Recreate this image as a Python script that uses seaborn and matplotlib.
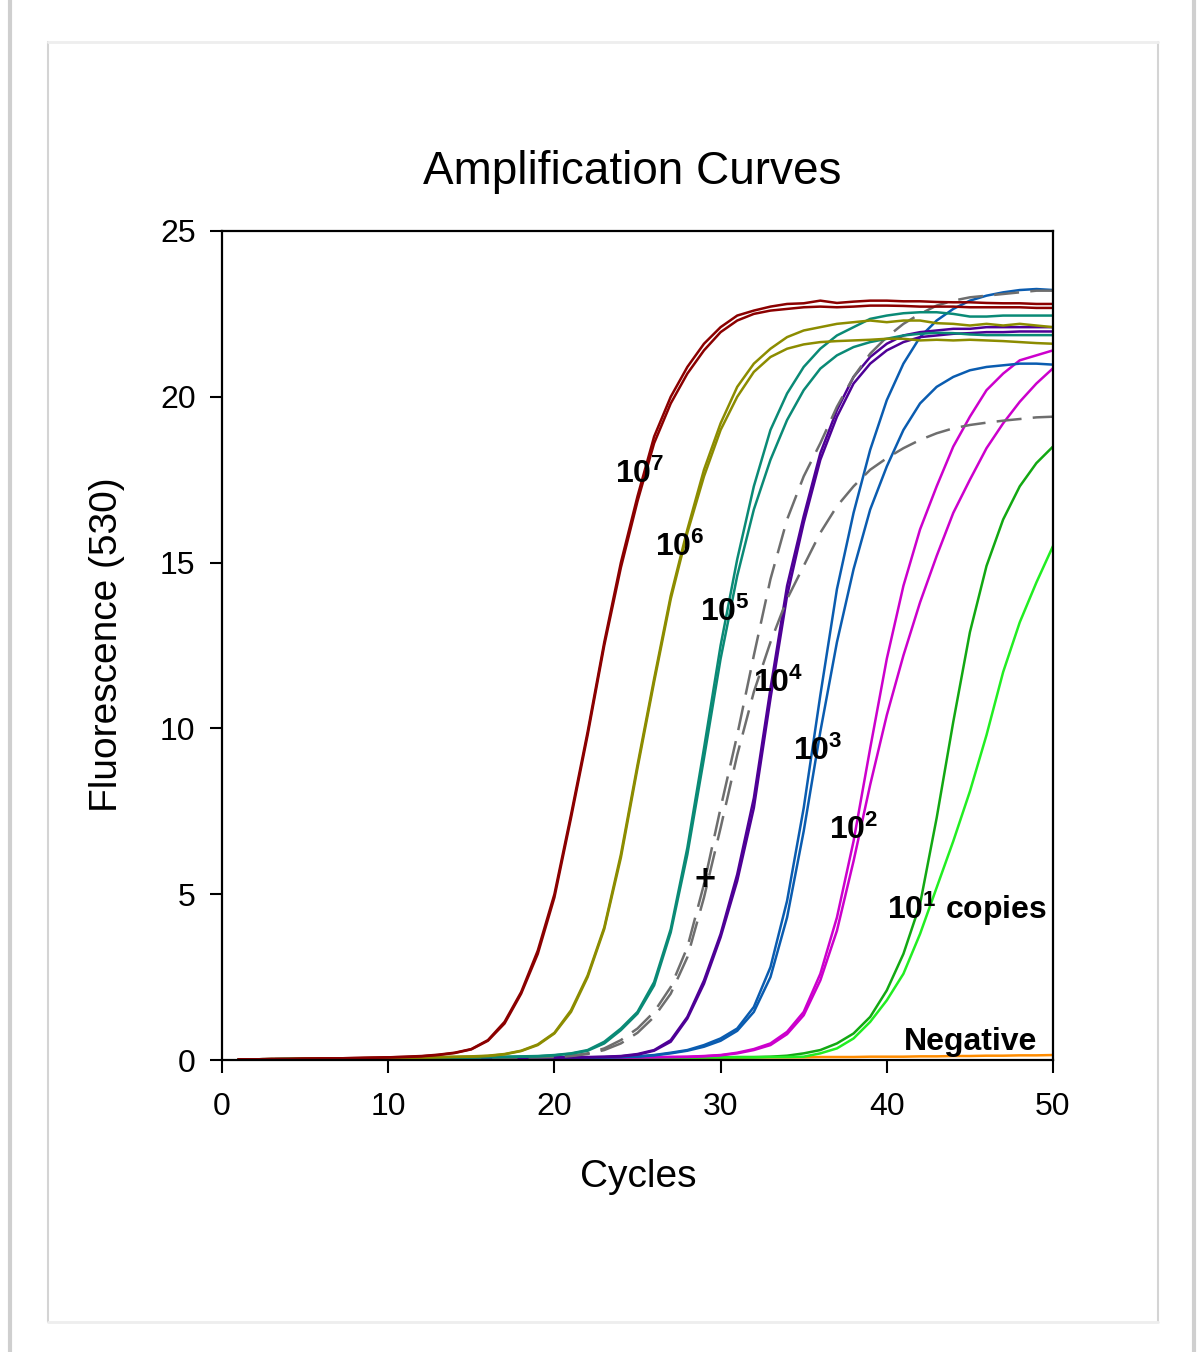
import matplotlib
matplotlib.use('Agg')
import matplotlib.pyplot as plt
import seaborn as sns
import pandas as pd
from matplotlib.lines import Line2D

# qPCR amplification curves, two replicate wells per dilution
cycles = list(range(1, 51))

red_a = [0.02, 0.02, 0.03, 0.03, 0.04, 0.05, 0.05, 0.06, 0.07, 0.08,
         0.10, 0.12, 0.16, 0.22, 0.33, 0.60, 1.15, 2.05, 3.30, 5.00,
         7.40, 9.90, 12.6, 15.0, 17.0, 18.8, 20.0, 20.9, 21.6, 22.1,
         22.45, 22.6, 22.72, 22.8, 22.82, 22.9, 22.83, 22.87, 22.9, 22.9,
         22.88, 22.88, 22.86, 22.85, 22.85, 22.83, 22.82, 22.82, 22.8, 22.8]
red_b = [0.02, 0.02, 0.03, 0.03, 0.04, 0.04, 0.05, 0.06, 0.07, 0.08,
         0.09, 0.11, 0.15, 0.21, 0.32, 0.58, 1.10, 2.00, 3.20, 4.90,
         7.30, 9.80, 12.5, 14.85, 16.85, 18.6, 19.8, 20.7, 21.4, 21.95,
         22.3, 22.5, 22.6, 22.65, 22.7, 22.72, 22.7, 22.72, 22.75, 22.75,
         22.74, 22.72, 22.72, 22.72, 22.7, 22.7, 22.7, 22.7, 22.68, 22.68]

olive_a = [0.02, 0.02, 0.03, 0.03, 0.04, 0.04, 0.05, 0.05, 0.06, 0.06,
           0.07, 0.08, 0.09, 0.10, 0.11, 0.13, 0.18, 0.28, 0.47, 0.82,
           1.50, 2.55, 4.00, 6.20, 8.90, 11.5, 14.0, 16.0, 17.8, 19.2,
           20.3, 21.0, 21.45, 21.8, 22.0, 22.1, 22.2, 22.25, 22.3, 22.25,
           22.3, 22.3, 22.22, 22.2, 22.15, 22.2, 22.15, 22.2, 22.15, 22.1]
olive_b = [0.02, 0.02, 0.02, 0.03, 0.03, 0.04, 0.04, 0.05, 0.05, 0.06,
           0.07, 0.07, 0.08, 0.09, 0.10, 0.12, 0.17, 0.27, 0.45, 0.80,
           1.45, 2.50, 3.95, 6.10, 8.80, 11.4, 13.9, 15.9, 17.6, 19.0,
           20.0, 20.75, 21.2, 21.45, 21.58, 21.65, 21.68, 21.7, 21.72, 21.75,
           21.75, 21.7, 21.72, 21.7, 21.72, 21.7, 21.68, 21.65, 21.62, 21.6]

teal_a = [0.02, 0.02, 0.03, 0.03, 0.03, 0.04, 0.04, 0.05, 0.05, 0.06,
          0.06, 0.07, 0.07, 0.08, 0.08, 0.09, 0.10, 0.11, 0.12, 0.15,
          0.20, 0.30, 0.55, 0.95, 1.45, 2.35, 3.95, 6.40, 9.40, 12.5,
          15.1, 17.3, 19.0, 20.1, 20.9, 21.45, 21.85, 22.1, 22.35, 22.45,
          22.52, 22.55, 22.55, 22.5, 22.42, 22.42, 22.45, 22.45, 22.45, 22.45]
teal_b = [0.02, 0.02, 0.02, 0.03, 0.03, 0.04, 0.04, 0.04, 0.05, 0.05,
          0.06, 0.06, 0.07, 0.07, 0.08, 0.08, 0.09, 0.10, 0.11, 0.14,
          0.19, 0.28, 0.50, 0.90, 1.40, 2.25, 3.85, 6.20, 9.10, 12.1,
          14.6, 16.6, 18.1, 19.3, 20.2, 20.85, 21.25, 21.5, 21.65, 21.75,
          21.85, 21.9, 21.93, 21.92, 21.88, 21.86, 21.86, 21.86, 21.86, 21.86]

pos_a = [0.02, 0.02, 0.03, 0.03, 0.03, 0.04, 0.04, 0.04, 0.05, 0.05,
         0.05, 0.06, 0.06, 0.06, 0.07, 0.07, 0.08, 0.08, 0.09, 0.10,
         0.13, 0.20, 0.35, 0.60, 0.95, 1.45, 2.20, 3.40, 5.30, 7.60,
         9.80, 12.2, 14.5, 16.3, 17.6, 18.6, 19.7, 20.6, 21.3, 21.8,
         22.2, 22.5, 22.75, 22.9, 23.0, 23.05, 23.1, 23.15, 23.2, 23.2]
pos_b = [0.02, 0.02, 0.02, 0.03, 0.03, 0.03, 0.04, 0.04, 0.04, 0.05,
         0.05, 0.05, 0.06, 0.06, 0.06, 0.07, 0.07, 0.08, 0.08, 0.09,
         0.12, 0.18, 0.30, 0.50, 0.82, 1.30, 2.00, 3.10, 4.90, 7.00,
         9.20, 11.1, 12.6, 13.9, 14.9, 15.9, 16.7, 17.3, 17.8, 18.15,
         18.45, 18.7, 18.9, 19.05, 19.15, 19.22, 19.28, 19.33, 19.38, 19.4]

purple_a = [0.02, 0.02, 0.02, 0.03, 0.03, 0.03, 0.04, 0.04, 0.04, 0.05,
            0.05, 0.05, 0.05, 0.06, 0.06, 0.06, 0.07, 0.07, 0.07, 0.08,
            0.08, 0.09, 0.10, 0.12, 0.18, 0.30, 0.60, 1.30, 2.40, 3.80,
            5.60, 7.90, 11.2, 14.3, 16.4, 18.3, 19.6, 20.6, 21.2, 21.6,
            21.85, 21.95, 22.0, 22.05, 22.05, 22.1, 22.1, 22.1, 22.1, 22.1]
purple_b = [0.02, 0.02, 0.02, 0.02, 0.03, 0.03, 0.03, 0.04, 0.04, 0.04,
            0.05, 0.05, 0.05, 0.05, 0.06, 0.06, 0.06, 0.07, 0.07, 0.07,
            0.08, 0.08, 0.09, 0.11, 0.16, 0.28, 0.55, 1.25, 2.30, 3.70,
            5.40, 7.60, 10.9, 14.0, 16.2, 18.1, 19.4, 20.4, 21.0, 21.4,
            21.65, 21.8, 21.85, 21.9, 21.92, 21.95, 21.95, 21.97, 21.97, 21.97]

blue_a = [0.02, 0.02, 0.02, 0.02, 0.03, 0.03, 0.03, 0.03, 0.04, 0.04,
          0.04, 0.04, 0.05, 0.05, 0.05, 0.05, 0.06, 0.06, 0.06, 0.06,
          0.07, 0.07, 0.08, 0.09, 0.11, 0.15, 0.22, 0.30, 0.45, 0.65,
          0.95, 1.60, 2.80, 4.80, 7.60, 11.0, 14.2, 16.5, 18.4, 19.9,
          21.0, 21.8, 22.3, 22.65, 22.9, 23.05, 23.15, 23.22, 23.25, 23.22]
blue_b = [0.02, 0.02, 0.02, 0.02, 0.02, 0.03, 0.03, 0.03, 0.03, 0.04,
          0.04, 0.04, 0.04, 0.05, 0.05, 0.05, 0.05, 0.06, 0.06, 0.06,
          0.07, 0.07, 0.08, 0.09, 0.10, 0.14, 0.20, 0.28, 0.40, 0.58,
          0.88, 1.45, 2.50, 4.30, 6.90, 9.90, 12.6, 14.8, 16.6, 17.9,
          19.0, 19.8, 20.3, 20.6, 20.8, 20.9, 20.95, 21.0, 21.0, 20.97]

magenta_a = [0.02, 0.02, 0.02, 0.02, 0.03, 0.03, 0.03, 0.03, 0.03, 0.04,
             0.04, 0.04, 0.04, 0.05, 0.05, 0.05, 0.05, 0.05, 0.06, 0.06,
             0.06, 0.07, 0.07, 0.08, 0.08, 0.09, 0.09, 0.10, 0.12, 0.15,
             0.22, 0.33, 0.50, 0.85, 1.45, 2.60, 4.30, 6.60, 9.40, 12.1,
             14.3, 16.0, 17.3, 18.5, 19.4, 20.2, 20.7, 21.1, 21.25, 21.4]
magenta_b = [0.02, 0.02, 0.02, 0.02, 0.02, 0.03, 0.03, 0.03, 0.03, 0.03,
             0.04, 0.04, 0.04, 0.04, 0.05, 0.05, 0.05, 0.05, 0.05, 0.06,
             0.06, 0.06, 0.07, 0.07, 0.08, 0.08, 0.09, 0.09, 0.11, 0.14,
             0.20, 0.30, 0.45, 0.78, 1.35, 2.40, 3.90, 6.00, 8.30, 10.4,
             12.2, 13.8, 15.2, 16.5, 17.5, 18.45, 19.2, 19.85, 20.4, 20.86]

green_a = [0.02, 0.02, 0.02, 0.02, 0.03, 0.03, 0.03, 0.03, 0.03, 0.04,
           0.04, 0.04, 0.04, 0.04, 0.05, 0.05, 0.05, 0.05, 0.05, 0.06,
           0.06, 0.06, 0.06, 0.07, 0.07, 0.07, 0.07, 0.08, 0.08, 0.08,
           0.09, 0.09, 0.10, 0.13, 0.20, 0.30, 0.50, 0.80, 1.30, 2.10,
           3.20, 4.70, 7.30, 10.2, 12.9, 14.9, 16.3, 17.3, 18.0, 18.5]
lime_b = [0.02, 0.02, 0.02, 0.02, 0.02, 0.03, 0.03, 0.03, 0.03, 0.03,
          0.04, 0.04, 0.04, 0.04, 0.04, 0.05, 0.05, 0.05, 0.05, 0.05,
          0.06, 0.06, 0.06, 0.06, 0.07, 0.07, 0.07, 0.07, 0.08, 0.08,
          0.08, 0.08, 0.09, 0.09, 0.10, 0.20, 0.35, 0.65, 1.15, 1.80,
          2.60, 3.80, 5.20, 6.60, 8.10, 9.80, 11.7, 13.2, 14.4, 15.5]

negative = [0.02, 0.02, 0.02, 0.02, 0.03, 0.03, 0.03, 0.03, 0.03, 0.03,
            0.04, 0.04, 0.04, 0.04, 0.04, 0.04, 0.05, 0.05, 0.05, 0.05,
            0.05, 0.05, 0.06, 0.06, 0.06, 0.06, 0.06, 0.07, 0.07, 0.07,
            0.07, 0.08, 0.08, 0.08, 0.08, 0.09, 0.09, 0.09, 0.10, 0.10,
            0.10, 0.11, 0.11, 0.12, 0.12, 0.13, 0.13, 0.14, 0.14, 0.15]

wells = {
    'neg': (negative, '#ff8c00', 'standard'),
    '1e1_a': (green_a, '#12a812', 'standard'),
    '1e1_b': (lime_b, '#22ee22', 'standard'),
    '1e2_a': (magenta_a, '#cc00cc', 'standard'),
    '1e2_b': (magenta_b, '#cc00cc', 'standard'),
    '1e3_a': (blue_a, '#0a5cb0', 'standard'),
    '1e3_b': (blue_b, '#0a5cb0', 'standard'),
    '1e4_a': (purple_a, '#4e0096', 'standard'),
    '1e4_b': (purple_b, '#4e0096', 'standard'),
    'pos_a': (pos_a, '#6e6e6e', 'control'),
    'pos_b': (pos_b, '#6e6e6e', 'control'),
    '1e5_a': (teal_a, '#0a8a76', 'standard'),
    '1e5_b': (teal_b, '#0a8a76', 'standard'),
    '1e6_a': (olive_a, '#8c8c00', 'standard'),
    '1e6_b': (olive_b, '#8c8c00', 'standard'),
    '1e7_a': (red_a, '#8b0000', 'standard'),
    '1e7_b': (red_b, '#8b0000', 'standard'),
}

# text labels: (cycle, fluorescence, text)
labels = [
    (23.65, 17.4, r'$\mathbf{10^{7}}$'),
    (26.05, 15.2, r'$\mathbf{10^{6}}$'),
    (28.75, 13.25, r'$\mathbf{10^{5}}$'),
    (31.95, 11.1, r'$\mathbf{10^{4}}$'),
    (34.35, 9.05, r'$\mathbf{10^{3}}$'),
    (36.55, 6.65, r'$\mathbf{10^{2}}$'),
    (40.0, 4.25, r'$\mathbf{10^{1}}$ copies'),
    (41.0, 0.3, 'Negative'),
]

rows = []
for name, (vals, col, kind) in wells.items():
    for c, v in zip(cycles, vals):
        rows.append({'cycle': c, 'fluorescence': v, 'well': name, 'kind': kind})
df = pd.DataFrame(rows)
palette = {name: col for name, (vals, col, kind) in wells.items()}

sns.set_theme(style='white')
plt.rcParams['font.family'] = ['Liberation Sans', 'DejaVu Sans']
plt.rcParams['mathtext.fontset'] = 'custom'
plt.rcParams['mathtext.rm'] = 'Liberation Sans'
plt.rcParams['mathtext.bf'] = 'Liberation Sans:bold'
for key in ('text.color', 'axes.labelcolor', 'xtick.color', 'ytick.color'):
    plt.rcParams[key] = 'black'

fig = plt.figure(figsize=(12, 13.52), dpi=100)
fig.patch.set_facecolor('white')

# page / card decoration around the chart
for x in (10 / 1200, 1194 / 1200):
    fig.add_artist(Line2D([x, x], [0, 1], color='#cfcfcf', lw=3))
for x in (48 / 1200, 1158 / 1200):
    fig.add_artist(Line2D([x, x], [1 - 1322 / 1352, 1 - 42 / 1352], color='#d4d4d4', lw=1.5))
for y in (1 - 42 / 1352, 1 - 1322 / 1352):
    fig.add_artist(Line2D([48 / 1200, 1158 / 1200], [y, y], color='#eeeeee', lw=2))

ax = fig.add_axes([222 / 1200, 1 - 1060 / 1352, 831 / 1200, 829 / 1352])
sns.lineplot(data=df, x='cycle', y='fluorescence', hue='well', palette=palette,
             style='kind', dashes={'standard': '', 'control': (10, 4.5)},
             linewidth=1.8, estimator=None, legend=False, ax=ax)

ax.set_xlim(0, 50)
ax.set_ylim(0, 25)
ax.set_xticks(range(0, 51, 10))
ax.set_yticks(range(0, 26, 5))
ax.set_xlabel('')
ax.set_ylabel('')
for s in ax.spines.values():
    s.set_color('black')
    s.set_linewidth(1.6)
ax.tick_params(axis='both', direction='out', length=9, width=1.5, colors='black',
               labelsize=23, left=True, bottom=True)
ax.tick_params(axis='x', pad=14)
ax.tick_params(axis='y', pad=10)

for c, f, t in labels:
    ax.text(c, f, t, fontsize=23, fontweight='bold', color='black',
            ha='left', va='baseline')
ax.text(29.06, 5.4, '+', fontsize=26, fontweight='bold', color='black',
        ha='center', va='center')

fig.text(632 / 1200, 1 - 172 / 1352, 'Amplification Curves', fontsize=33,
         color='black', ha='center', va='center')
fig.text(638 / 1200, 1 - 1177 / 1352, 'Cycles', fontsize=28, color='black',
         ha='center', va='center')
fig.text(107 / 1200, 1 - 645 / 1352, 'Fluorescence (530)', fontsize=28,
         color='black', rotation=90, ha='center', va='center')

fig.savefig('out.png', dpi=100)
